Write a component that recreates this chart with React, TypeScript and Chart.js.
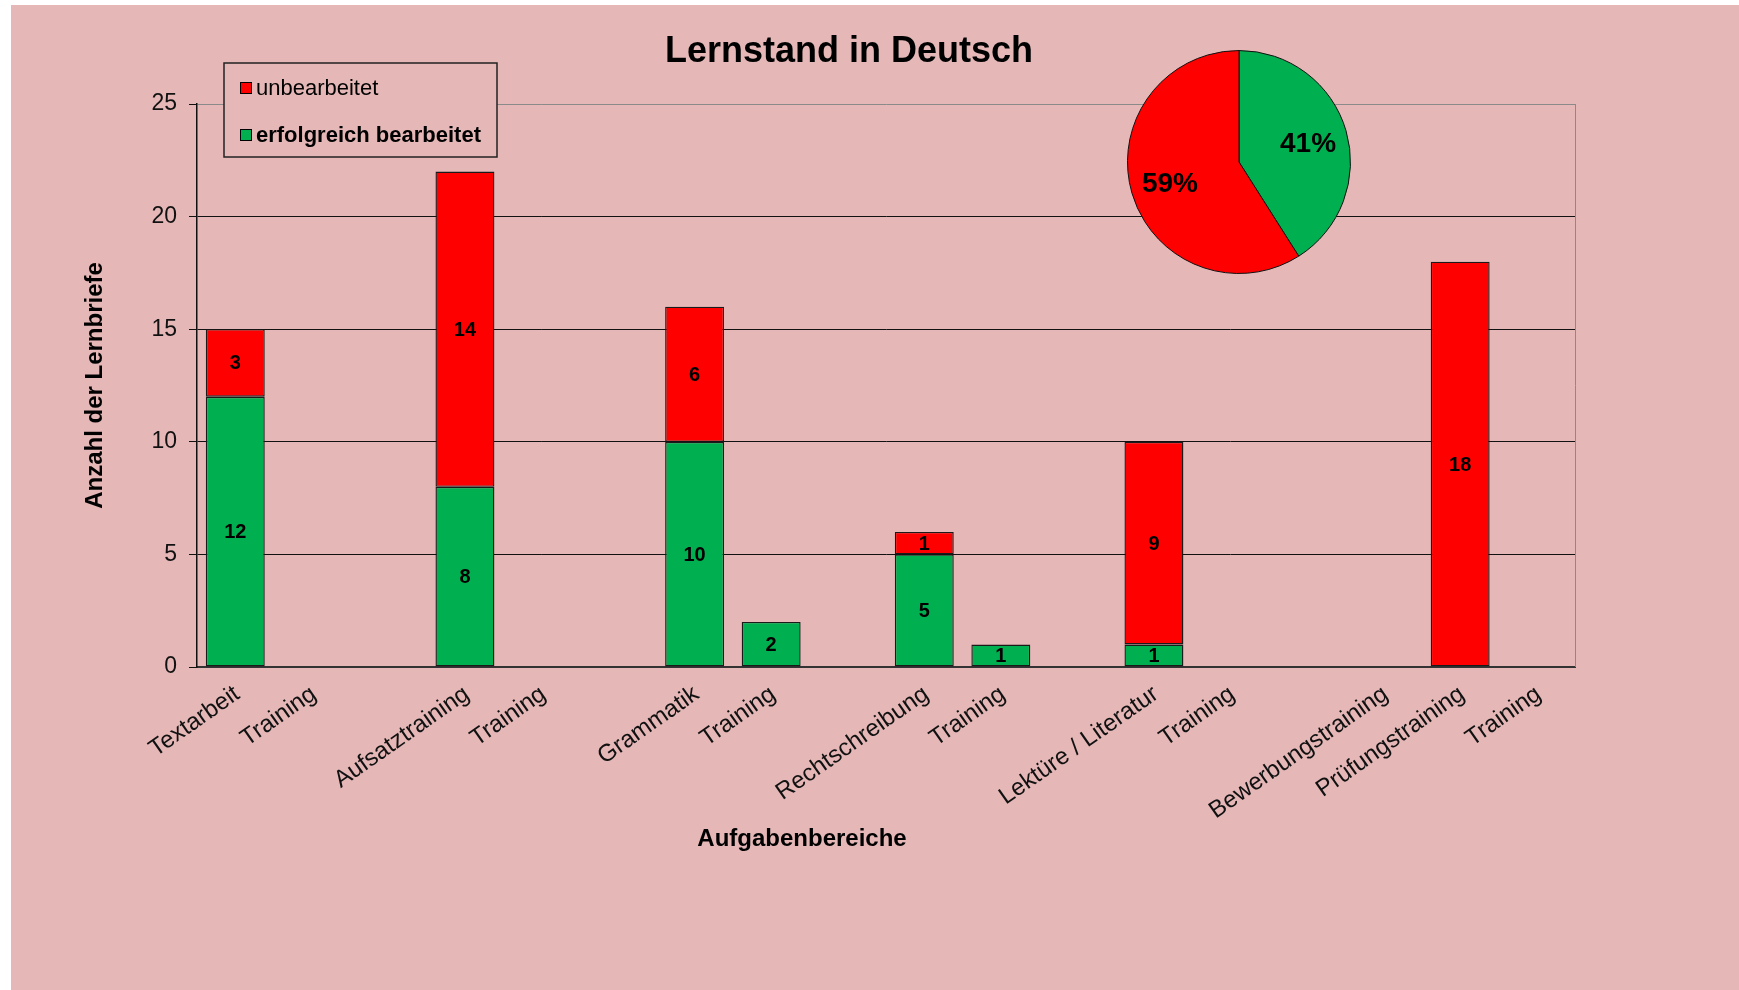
import React, { useEffect, useRef } from "react";
import { Chart, registerables } from "chart.js";

Chart.register(...registerables);

const FONT = "'Liberation Sans', Arial, Helvetica, sans-serif";

// ---- data ----
const categories = [
  "Textarbeit", "Training", "",
  "Aufsatztraining", "Training", "",
  "Grammatik", "Training", "",
  "Rechtschreibung", "Training", "",
  "Lektüre / Literatur", "Training", "",
  "Bewerbungstraining", "Prüfungstraining", "Training",
];
const erfolgreich = [12, null, null, 8, null, null, 10, 2, null, 5, 1, null, 1, null, null, null, null, null];
const unbearbeitet = [3, null, null, 14, null, null, 6, null, null, 1, null, null, 9, null, null, null, 18, null];
const yTicks = [0, 5, 10, 15, 20, 25];
const pieLabels = ["erfolgreich bearbeitet", "unbearbeitet"];
const pieValues = [41, 59];

const GREEN = "#00B050";
const RED = "#FF0000";
const BG = "#E5B8B7";

const W = 1728;
const H = 985;

const barValueLabels = {
  id: "barValueLabels",
  afterDatasetsDraw(chart: any) {
    const ctx = chart.ctx;
    ctx.save();
    ctx.font = `bold 20px ${FONT}`;
    ctx.fillStyle = "#000";
    ctx.textAlign = "center";
    ctx.textBaseline = "middle";
    chart.data.datasets.forEach((ds: any, i: number) => {
      const meta = chart.getDatasetMeta(i);
      meta.data.forEach((bar: any, j: number) => {
        const v = ds.data[j];
        if (v == null || v === 0) return;
        const p = bar.getProps(["x", "y", "base"], true);
        ctx.fillText(String(v), p.x, (p.y + p.base) / 2 + 1);
      });
    });
    ctx.restore();
  },
};

const frameAndTexts = {
  id: "frameAndTexts",
  beforeDatasetsDraw(chart: any) {
    const { ctx, chartArea } = chart;
    ctx.save();
    ctx.strokeStyle = "#8a8a8a";
    ctx.lineWidth = 1;
    ctx.beginPath();
    ctx.moveTo(chartArea.right + 0.5, chartArea.top);
    ctx.lineTo(chartArea.right + 0.5, chartArea.bottom);
    ctx.stroke();
    ctx.restore();
  },
  afterDraw(chart: any) {
    const { ctx } = chart;
    ctx.save();
    // title
    ctx.fillStyle = "#000";
    ctx.textAlign = "center";
    ctx.textBaseline = "alphabetic";
    ctx.font = `bold 36px ${FONT}`;
    ctx.fillText("Lernstand in Deutsch", 838, 57);
    // x axis title
    ctx.font = `bold 24px ${FONT}`;
    ctx.fillText("Aufgabenbereiche", 791, 841);

    // legend (custom: first item normal, second bold)
    const lx = 213, ly = 58, lw = 273, lh = 94;
    ctx.fillStyle = BG;
    ctx.fillRect(lx, ly, lw, lh);
    ctx.strokeStyle = "#222";
    ctx.lineWidth = 1.5;
    ctx.strokeRect(lx, ly, lw, lh);
    const items = [
      { ds: chart.data.datasets[1], y: 83, bold: false },
      { ds: chart.data.datasets[0], y: 130, bold: true },
    ];
    items.forEach((it) => {
      ctx.fillStyle = it.ds.backgroundColor;
      ctx.fillRect(229, it.y - 6, 12, 12);
      ctx.strokeStyle = "#000";
      ctx.lineWidth = 1;
      ctx.strokeRect(229.5, it.y - 5.5, 11, 11);
      ctx.fillStyle = "#000";
      ctx.textAlign = "left";
      ctx.textBaseline = "middle";
      ctx.font = `${it.bold ? "bold " : ""}22px ${FONT}`;
      ctx.fillText(it.ds.label, 245, it.y + 1);
    });
    ctx.restore();
  },
};

const pieLabelsPlugin = {
  id: "pieLabelsPlugin",
  afterDatasetsDraw(chart: any) {
    const ctx = chart.ctx;
    const ds = chart.data.datasets[0];
    const total = ds.data.reduce((a: number, b: number) => a + b, 0);
    const meta = chart.getDatasetMeta(0);
    ctx.save();
    ctx.font = `bold 28px ${FONT}`;
    ctx.fillStyle = "#000";
    ctx.textAlign = "center";
    ctx.textBaseline = "middle";
    meta.data.forEach((arc: any, i: number) => {
      const p = arc.getProps(["x", "y", "startAngle", "endAngle", "outerRadius"], true);
      const mid = (p.startAngle + p.endAngle) / 2;
      const r = p.outerRadius * 0.645;
      const pct = Math.round((ds.data[i] / total) * 100);
      ctx.fillText(pct + "%", p.x + Math.cos(mid) * r, p.y + Math.sin(mid) * r + 2);
    });
    ctx.restore();
  },
};

export default function App() {
  const barRef = useRef<HTMLCanvasElement | null>(null);
  const pieRef = useRef<HTMLCanvasElement | null>(null);

  useEffect(() => {
    Chart.defaults.font.family = FONT;
    Chart.defaults.color = "#000";

    const bar = new Chart(barRef.current as HTMLCanvasElement, {
      type: "bar",
      data: {
        labels: categories,
        datasets: [
          {
            label: "erfolgreich bearbeitet",
            data: erfolgreich,
            backgroundColor: GREEN,
            borderColor: "#1a1a1a",
            borderWidth: 1.4,
            borderSkipped: false,
            categoryPercentage: 1,
            barPercentage: 0.77,
          },
          {
            label: "unbearbeitet",
            data: unbearbeitet,
            backgroundColor: RED,
            borderColor: "#1a1a1a",
            borderWidth: 1.4,
            borderSkipped: false,
            categoryPercentage: 1,
            barPercentage: 0.77,
          },
        ],
      } as any,
      options: {
        responsive: false,
        animation: false,
        layout: { padding: { left: 0, top: 99, right: 164, bottom: 0 } },
        plugins: {
          legend: { display: false },
          title: { display: false },
          tooltip: { enabled: false },
        },
        scales: {
          x: {
            stacked: true,
            grid: { display: false, drawTicks: false },
            border: { display: true, color: "#333", width: 2 },
            ticks: {
              autoSkip: false,
              minRotation: 35,
              maxRotation: 35,
              padding: 13,
              labelOffset: 2,
              color: "#111",
              font: { size: 24, family: FONT },
            },
            afterFit: (scale: any) => {
              scale.height = 323;
            },
          },
          y: {
            stacked: true,
            min: 0,
            max: 25,
            afterBuildTicks: (scale: any) => {
              scale.ticks = yTicks.map((v) => ({ value: v }));
            },
            grid: {
              color: (c: any) => (c.tick && c.tick.value === 25 ? "#8a8a8a" : "#111"),
              lineWidth: 1,
              tickLength: 8,
              tickColor: "#111",
            },
            border: { display: true, color: "#111", width: 1.5 },
            ticks: {
              padding: 12,
              color: "#111",
              font: { size: 23, family: FONT },
            },
            title: {
              display: true,
              text: "Anzahl der Lernbriefe",
              color: "#000",
              font: { size: 24, weight: "bold", family: FONT },
              padding: { top: 70, bottom: 0 },
            },
            afterFit: (scale: any) => {
              scale.width = 186;
            },
          },
        },
      } as any,
      plugins: [frameAndTexts, barValueLabels],
    });

    const pie = new Chart(pieRef.current as HTMLCanvasElement, {
      type: "pie",
      data: {
        labels: pieLabels,
        datasets: [
          {
            data: pieValues,
            backgroundColor: [GREEN, RED],
            borderColor: "#111",
            borderWidth: 1,
          },
        ],
      },
      options: {
        responsive: false,
        animation: false,
        layout: { padding: 0 },
        plugins: {
          legend: { display: false },
          tooltip: { enabled: false },
        },
      } as any,
      plugins: [pieLabelsPlugin],
    });

    return () => {
      bar.destroy();
      pie.destroy();
    };
  }, []);

  return (
    <div
      style={{
        position: "absolute",
        left: 11,
        top: 5,
        width: W,
        height: H,
        background: BG,
        overflow: "hidden",
      }}
    >
      <canvas
        ref={barRef}
        width={W}
        height={H}
        style={{ position: "absolute", left: 0, top: 0, width: W, height: H, display: "block" }}
      />
      <canvas
        ref={pieRef}
        width={224}
        height={224}
        style={{ position: "absolute", left: 1116, top: 45, width: 224, height: 224, display: "block" }}
      />
    </div>
  );
}
